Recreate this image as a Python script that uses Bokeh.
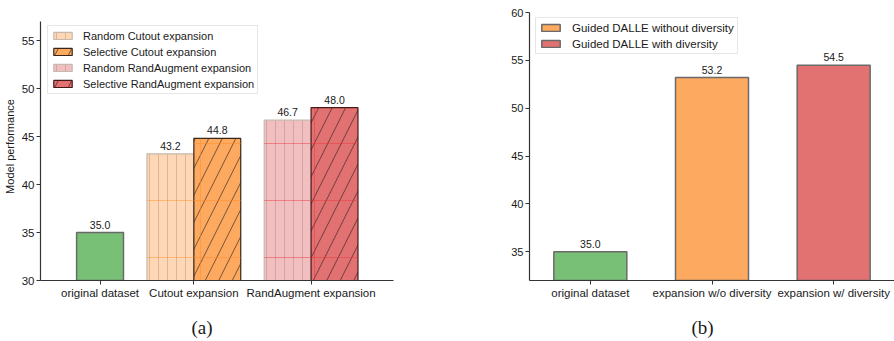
from bokeh.plotting import figure
from bokeh.layouts import row
from bokeh.models import FixedTicker, Legend, LegendItem, Range1d, Title
from bokeh.embed import file_html
from bokeh.resources import INLINE
from bokeh.core.properties import value

SANS = "Liberation Sans"
SERIF = "Liberation Serif"

# ---- panel (a): augmentation-based expansion ----
cats_a = ["original dataset", "Cutout expansion", "RandAugment expansion"]
original_score = 35.0
random_scores = [43.2, 46.7]       # Cutout, RandAugment
selective_scores = [44.8, 48.0]    # Cutout, RandAugment
series_a = ["Random Cutout expansion", "Selective Cutout expansion",
            "Random RandAugment expansion", "Selective RandAugment expansion"]
yticks_a = [30, 35, 40, 45, 50, 55]

# ---- panel (b): guided DALLE expansion ----
cats_b = ["original dataset", "expansion w/o diversity", "expansion w/ diversity"]
scores_b = [35.0, 53.2, 54.5]
series_b = ["Guided DALLE without diversity", "Guided DALLE with diversity"]
yticks_b = [35, 40, 45, 50, 55, 60]

GREEN = "#78c075"
ORANGE = "#fdaa60"
ORANGE_LIGHT = "#fed8b6"
RED = "#e27272"
RED_LIGHT = "#f1bfbf"
TEXT = "#1a1a1a"


def style_axes(p, tick_size):
    for ax in (p.xaxis[0], p.yaxis[0]):
        ax.axis_line_color = "#333333"
        ax.axis_line_width = 1.2
        ax.major_tick_line_color = "#333333"
        ax.major_tick_out = 4
        ax.major_tick_in = 0
        ax.minor_tick_line_color = None
        ax.major_label_text_font = SANS
        ax.major_label_text_font_size = tick_size
        ax.major_label_text_color = TEXT
        ax.major_label_standoff = 2
    p.xgrid.visible = False
    p.ygrid.visible = False
    p.outline_line_color = None


def tick_key(v):
    return int(v) if float(v).is_integer() else v


def value_labels(p, xs, ys):
    # value printed just above each bar top
    p.text(x=xs, y=ys, text=[f"{v:.1f}" for v in ys], text_align="center",
           text_baseline="alphabetic", y_offset=-8, text_font=value(SANS),
           text_font_size="10.5px", text_color=TEXT)


def style_legend(lg, size, standoff, padding):
    lg.padding = padding
    lg.spacing = 3
    lg.glyph_width = 23
    lg.glyph_height = 9
    lg.label_height = 13
    lg.label_standoff = standoff
    lg.label_text_font = SANS
    lg.label_text_font_size = size
    lg.label_text_color = TEXT
    lg.border_line_color = "#d0d0d0"
    lg.border_line_width = 1
    lg.background_fill_alpha = 0.85


def caption(p, text, offset):
    # thin spacer below the tick labels, then the panel caption
    p.add_layout(Title(text=" ", standoff=8, text_font_size="1px"), "below")
    p.add_layout(Title(text=text, align="left", offset=offset, standoff=4,
                       vertical_align="bottom", text_font=SERIF,
                       text_font_size="19px", text_font_style="normal",
                       text_color=TEXT), "below")


# ================= panel (a) =================
w = 0.4
pos_a = [0.2, 1, 2]          # tick positions of the three groups
pa = figure(width=450, height=341, output_backend="svg", toolbar_location=None,
            x_range=Range1d(-0.308, 2.703), y_range=Range1d(30, 57.92),
            min_border_left=38, min_border_right=57, min_border_top=12,
            min_border_bottom=61)
style_axes(pa, "11.5px")
pa.xaxis.ticker = FixedTicker(ticks=pos_a)
pa.xaxis.major_label_overrides = {tick_key(x): c for x, c in zip(pos_a, cats_a)}
pa.yaxis.ticker = FixedTicker(ticks=yticks_a)
pa.yaxis.bounds = (30, 57)
pa.yaxis.axis_label = "Model performance"
pa.yaxis.axis_label_text_font = SANS
pa.yaxis.axis_label_text_font_size = "11px"
pa.yaxis.axis_label_text_font_style = "normal"
pa.yaxis.axis_label_text_color = TEXT
pa.yaxis.axis_label_standoff = 3

pa.vbar(x=[pos_a[0]], top=[original_score], bottom=0, width=w,
        fill_color=GREEN, line_color="#6a6a6a", line_width=1.5)

groups = [(pos_a[1], random_scores[0], selective_scores[0], ORANGE_LIGHT, ORANGE,
           "#b58a66", "#3a2414", "#ff8a1f"),
          (pos_a[2], random_scores[1], selective_scores[1], RED_LIGHT, RED,
           "#b07f7f", "#4a1616", "#e8303a")]
items = []
for i, (gx, rv, sv, lfill, sfill, rhatch, sedge, grid_col) in enumerate(groups):
    r_rand = pa.vbar(x=[gx - w / 2], top=[rv], bottom=0, width=w,
                     fill_color=lfill, line_color="#c6b9b0", line_width=1.2,
                     hatch_pattern="|", hatch_color=rhatch, hatch_alpha=0.55,
                     hatch_scale=9, hatch_weight=0.8)
    r_sel = pa.vbar(x=[gx + w / 2], top=[sv], bottom=0, width=w,
                    fill_color=sfill, line_color=sedge, line_width=1.2,
                    hatch_pattern="/", hatch_color="#2a1a1a", hatch_alpha=0.8,
                    hatch_scale=27, hatch_weight=0.8)
    # faint coarse grid texture over both bars of the group
    pa.vbar(x=[gx - w / 2, gx + w / 2], top=[rv, sv], bottom=0, width=w,
            fill_alpha=0, line_color=None, hatch_pattern="+",
            hatch_color=grid_col, hatch_alpha=0.45, hatch_scale=57,
            hatch_weight=1)
    items.append(LegendItem(label=series_a[2 * i], renderers=[r_rand]))
    items.append(LegendItem(label=series_a[2 * i + 1], renderers=[r_sel]))

value_labels(pa, [pos_a[0]], [original_score])
value_labels(pa, [pos_a[1] - w / 2, pos_a[2] - w / 2], random_scores)
value_labels(pa, [pos_a[1] + w / 2, pos_a[2] + w / 2], selective_scores)

leg_a = Legend(items=items, location=(7, 186))
style_legend(leg_a, "11px", 9, 3)
pa.add_layout(leg_a)
caption(pa, "(a)", 151)

# ================= panel (b) =================
wb = 0.6
pos_b = [0, 1, 2]
pb = figure(width=444, height=341, output_backend="svg", toolbar_location=None,
            x_range=Range1d(-0.5, 2.5), y_range=Range1d(32, 60),
            min_border_left=79, min_border_right=0, min_border_top=12,
            min_border_bottom=61)
style_axes(pb, "11px")
pb.xaxis.ticker = FixedTicker(ticks=pos_b)
pb.xaxis.major_label_overrides = {tick_key(x): c for x, c in zip(pos_b, cats_b)}
pb.xaxis.major_label_text_font_size = "11.5px"
pb.yaxis.ticker = FixedTicker(ticks=yticks_b)

colors_b = [GREEN, ORANGE, RED]
rend_b = []
for x, v, c in zip(pos_b, scores_b, colors_b):
    rend_b.append(pb.vbar(x=[x], top=[v], bottom=0, width=wb, fill_color=c,
                          line_color="#6a6a6a", line_width=1.5))
value_labels(pb, pos_b, scores_b)

leg_b = Legend(items=[LegendItem(label=series_b[0], renderers=[rend_b[1]]),
                      LegendItem(label=series_b[1], renderers=[rend_b[2]])],
               location=(6, 226))
style_legend(leg_b, "11.5px", 10, 3)
pb.add_layout(leg_b)
caption(pb, "(b)", 162)

layout = row(pa, pb, spacing=0)
open("out.html", "w").write(file_html(layout, INLINE))
